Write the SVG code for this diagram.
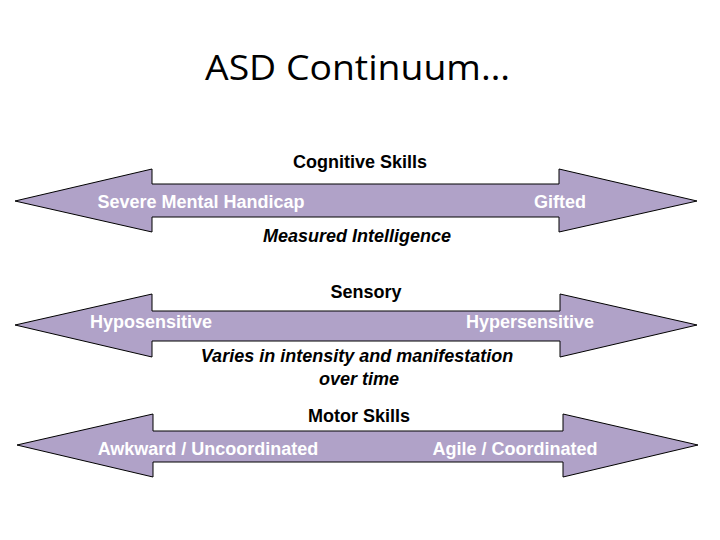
<svg xmlns="http://www.w3.org/2000/svg" width="720" height="540" viewBox="0 0 720 540">
<style>
.arrow{fill:#B0A2C8;stroke:#000;stroke-width:1}
.lbl{font-family:"Liberation Sans",Arial,sans-serif;font-size:18px;font-weight:bold;fill:#000}
.in{fill:#fff}
.it{font-style:italic}
.title{font-family:"Open Sans","Noto Sans",sans-serif;font-size:34px;fill:#000}
</style>
<rect width="720" height="540" fill="#fff"/>
<text class="title" x="205" y="80" textLength="305" lengthAdjust="spacingAndGlyphs">ASD Continuum…</text>
<g id="connectors">
<g id="cognitive-arrow">
<polygon class="arrow" points="15,201 152,169 152,184 559,184 559,169 697,201 559,232 559,217 152,217 152,232"/>
</g>
<g id="sensory-arrow">
<polygon class="arrow" points="15,325 152,294 152,311 560,311 560,294 697,325 560,357 560,341 152,341 152,357"/>
</g>
<g id="motor-arrow">
<polygon class="arrow" points="17,445 153,414 153,431 563,431 563,414 698,445 563,477 563,462 153,462 153,477"/>
</g>
</g>
<g id="cognitive">
<text class="lbl" x="360" y="168" text-anchor="middle">Cognitive Skills</text>
<text class="lbl in" x="201" y="208" text-anchor="middle">Severe Mental Handicap</text>
<text class="lbl in" x="560" y="208" text-anchor="middle">Gifted</text>
<text class="lbl it" x="357" y="242" text-anchor="middle">Measured Intelligence</text>
</g>
<g id="sensory">
<text class="lbl" x="366" y="298" text-anchor="middle">Sensory</text>
<text class="lbl in" x="151" y="328" text-anchor="middle">Hyposensitive</text>
<text class="lbl in" x="530" y="328" text-anchor="middle">Hypersensitive</text>
<text class="lbl it" x="357" y="362" text-anchor="middle">Varies in intensity and manifestation</text>
<text class="lbl it" x="359" y="385" text-anchor="middle">over time</text>
</g>
<g id="motor">
<text class="lbl" x="359" y="422" text-anchor="middle">Motor Skills</text>
<text class="lbl in" x="208" y="455" text-anchor="middle">Awkward / Uncoordinated</text>
<text class="lbl in" x="515" y="455" text-anchor="middle">Agile / Coordinated</text>
</g>
</svg>
